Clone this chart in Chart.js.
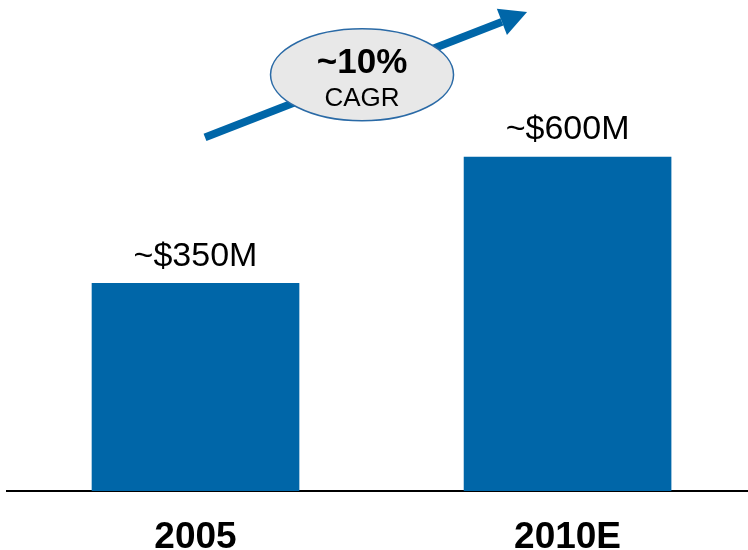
<!DOCTYPE html>
<html lang="en">
<head>
    <meta charset="UTF-8">
    <title>Market size</title>
    <script src="https://cdn.jsdelivr.net/npm/chart.js"></script>
    <style>
        html, body { margin: 0; padding: 0; background: #fff; overflow: hidden; }
        #wrap { width: 748px; height: 550px; position: relative; }
    </style>
</head>
<body>
    <div id="wrap"><canvas id="myChart"></canvas></div>

    <script>
        // data
        var categories = ['2005', '2010E'];
        var marketSize = [350, 600];
        var valueLabels = ['~$350M', '~$600M'];
        var cagrText = ['~10%', 'CAGR'];

        var blue = '#0066a8';
        var yMin = -61;

        // draws value labels, growth arrow and CAGR bubble
        var notesPlugin = {
            id: 'notes',
            afterDatasetsDraw: function (chart) {
                var ctx = chart.ctx;
                var bars = chart.getDatasetMeta(0).data;
                ctx.save();

                ctx.fillStyle = '#000';
                ctx.font = '34px "Liberation Sans", Arial, sans-serif';
                ctx.textAlign = 'center';
                ctx.textBaseline = 'bottom';
                bars.forEach(function (bar, i) {
                    ctx.fillText(valueLabels[i], bar.x, bar.y - 10);
                });

                // arrow
                var x0 = bars[0].x + 9.5, y0 = bars[0].y - 146;
                var x1 = bars[1].x - 40.5, y1 = bars[1].y - 145;
                var ang = Math.atan2(y1 - y0, x1 - x0);
                var headLen = 27, headW = 14;
                var bx = x1 - headLen * Math.cos(ang), by = y1 - headLen * Math.sin(ang);
                ctx.strokeStyle = blue;
                ctx.lineWidth = 8;
                ctx.beginPath();
                ctx.moveTo(x0, y0);
                ctx.lineTo(bx, by);
                ctx.stroke();
                ctx.fillStyle = blue;
                ctx.beginPath();
                ctx.moveTo(x1, y1);
                ctx.lineTo(bx + headW * Math.sin(ang), by - headW * Math.cos(ang));
                ctx.lineTo(bx - headW * Math.sin(ang), by + headW * Math.cos(ang));
                ctx.closePath();
                ctx.fill();

                // bubble
                var cx = (x0 + x1) / 2 - 4, cy = (y0 + y1) / 2;
                ctx.beginPath();
                ctx.ellipse(cx, cy, 91.5, 46, 0, 0, Math.PI * 2);
                ctx.fillStyle = '#e8e8e8';
                ctx.fill();
                ctx.lineWidth = 1.5;
                ctx.strokeStyle = '#2a6aa6';
                ctx.stroke();

                ctx.fillStyle = '#000';
                ctx.textBaseline = 'alphabetic';
                ctx.font = 'bold 35px "Liberation Sans", Arial, sans-serif';
                ctx.fillText(cagrText[0], cx, cy - 2);
                ctx.font = '26px "Liberation Sans", Arial, sans-serif';
                ctx.fillText(cagrText[1], cx, cy + 31);
                ctx.restore();
            }
        };

        var ctx = document.getElementById('myChart').getContext('2d');
        var myChart = new Chart(ctx, {
            type: 'bar',
            data: {
                datasets: [{
                    data: marketSize.map(function (v, i) { return { x: i, y: v }; }),
                    backgroundColor: blue,
                    borderWidth: 0,
                    barThickness: 207,
                    base: yMin
                }]
            },
            options: {
                responsive: true,
                maintainAspectRatio: false,
                animation: false,
                layout: { padding: { left: 7, right: 0, top: 0, bottom: -34 } },
                plugins: {
                    legend: { display: false },
                    tooltip: { enabled: false }
                },
                scales: {
                    x: {
                        type: 'linear',
                        offset: false,
                        min: -0.5067,
                        max: 1.485,
                        grid: { display: false, drawTicks: false },
                        border: { display: true, color: '#000', width: 2 },
                        afterBuildTicks: function (axis) {
                            axis.ticks = categories.map(function (c, i) { return { value: i }; });
                        },
                        ticks: {
                            padding: 28,
                            color: '#000',
                            font: { family: '"Liberation Sans", Arial, sans-serif', size: 37, weight: 'bold', lineHeight: 1 },
                            callback: function (v) { return categories[v]; }
                        }
                    },
                    y: {
                        display: false,
                        min: yMin,
                        max: 911
                    }
                }
            },
            plugins: [notesPlugin]
        });
    </script>
</body>
</html>
